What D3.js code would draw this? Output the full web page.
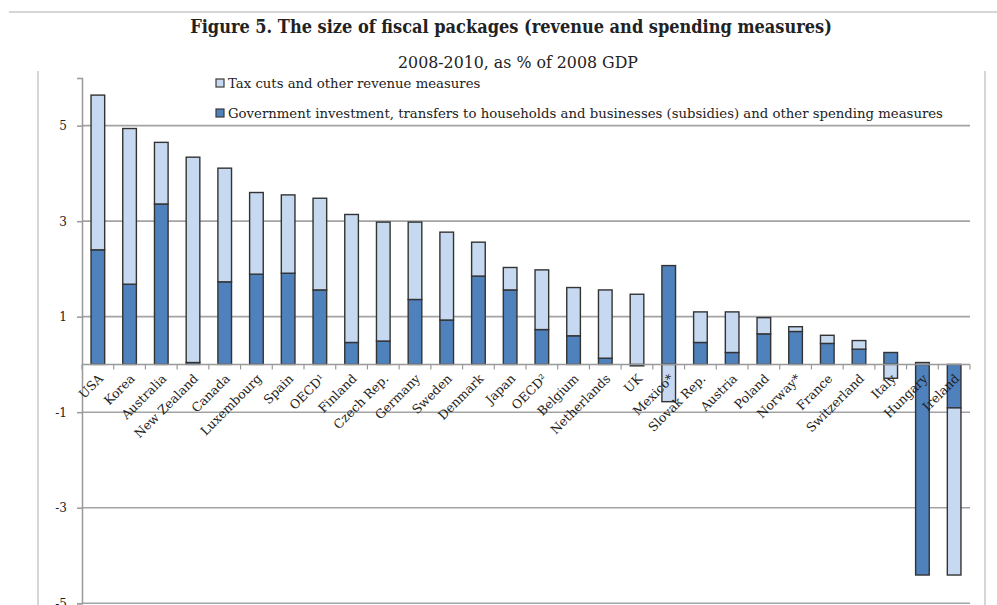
<!DOCTYPE html>
<html>
<head>
<meta charset="utf-8">
<script src="https://cdn.jsdelivr.net/npm/d3@7"></script>
<style>
  body { margin: 0; background: #fff; }
  svg text { font-family: "DejaVu Serif", "Liberation Serif", serif; fill: #222; }
</style>
</head>
<body>
<div id="chart"></div>
<script>
// values (% of 2008 GDP)
const countries = ["USA", "Korea", "Australia", "New Zealand", "Canada", "Luxembourg", "Spain", "OECD¹",
  "Finland", "Czech Rep.", "Germany", "Sweden", "Denmark", "Japan", "OECD²", "Belgium", "Netherlands",
  "UK", "Mexico*", "Slovak Rep.", "Austria", "Poland", "Norway*", "France", "Switzerland", "Italy",
  "Hungary", "Ireland"];
const spending = [2.40, 1.68, 3.36, 0.04, 1.73, 1.89, 1.91, 1.56, 0.46, 0.49, 1.36, 0.93, 1.85, 1.56,
  0.73, 0.60, 0.13, -0.03, 2.07, 0.46, 0.25, 0.64, 0.69, 0.44, 0.32, 0.25, -4.41, -0.91];
const revenue = [3.24, 3.26, 1.29, 4.30, 2.38, 1.71, 1.64, 1.92, 2.68, 2.49, 1.62, 1.84, 0.71, 0.47,
  1.25, 1.01, 1.43, 1.47, -0.78, 0.64, 0.85, 0.34, 0.10, 0.17, 0.18, -0.29, 0.04, -3.50];
const yTicks = [5, 3, 1, -1, -3, -5];
const legendLabels = ["Tax cuts and other revenue  measures",
  "Government investment, transfers to households and businesses (subsidies) and other spending measures"];

const width = 997, height = 605;
const colors = {spending: "#4f81bd", revenue: "#c6d9f1"};

const svg = d3.select("#chart").append("svg")
  .attr("width", width)
  .attr("height", height);

// squeeze/stretch the font size so a line of text fills a given width
function fitText(sel, target) {
  const fs = parseFloat(sel.attr("font-size"));
  const w = sel.node().getComputedTextLength();
  sel.attr("font-size", fs * target / w);
  return fs * target / w;
}

// outer frame lines
svg.append("line").attr("x1", 9).attr("x2", width).attr("y1", 12).attr("y2", 12)
  .attr("stroke", "#c8c8c8").attr("stroke-width", 1.5);
[38, 985].forEach(xx => {
  svg.append("line").attr("x1", xx).attr("x2", xx).attr("y1", 71).attr("y2", height)
    .attr("stroke", "#c8c8c8").attr("stroke-width", 1.5);
});

const title = svg.append("text")
  .attr("x", 511).attr("y", 33)
  .attr("text-anchor", "middle")
  .attr("font-weight", "bold")
  .attr("font-size", 17)
  .style("font-family", "'DejaVu Serif Condensed', 'DejaVu Serif', serif")
  .style("font-stretch", "condensed")
  .text("Figure 5. The size of fiscal packages (revenue and spending measures)");
fitText(title, 642);

const subtitle = svg.append("text")
  .attr("x", 518).attr("y", 68)
  .attr("text-anchor", "middle")
  .attr("font-size", 14)
  .text("2008-2010, as % of 2008 GDP");
fitText(subtitle, 240);

// scales
const x = d3.scaleBand()
  .domain(countries)
  .range([82, 970])
  .paddingInner(0.57)
  .paddingOuter(0.285);

const y = d3.scaleLinear()
  .domain([-5, 6])
  .range([603.2, 77.9]);

// gridlines
svg.append("g")
  .selectAll("line")
  .data(yTicks)
  .enter().append("line")
  .attr("x1", 82).attr("x2", 970)
  .attr("y1", d => y(d)).attr("y2", d => y(d))
  .attr("stroke", "#a3a3a3").attr("stroke-width", 1.6);

// y axis
const yAxis = svg.append("g")
  .attr("transform", "translate(82,0)")
  .call(d3.axisLeft(y).tickValues(yTicks).tickSize(5).tickFormat(d3.format("d")));
yAxis.select(".domain").attr("stroke", "#999").attr("stroke-width", 1.5);
yAxis.selectAll(".tick line").attr("stroke", "#999").attr("stroke-width", 1.5);
yAxis.selectAll(".tick text")
  .attr("font-family", "DejaVu Serif, serif")
  .attr("font-size", 12)
  .attr("x", -15)
  .attr("fill", "#333")
  .text(d => d < 0 ? "-" + Math.abs(d) : d);

// stacked bars
const rows = countries.map((c, i) => ({country: c, spending: spending[i], revenue: revenue[i]}));
const series = d3.stack()
  .keys(["spending", "revenue"])
  .offset(d3.stackOffsetDiverging)(rows);

svg.append("g")
  .selectAll("g")
  .data(series)
  .enter().append("g")
  .attr("fill", d => colors[d.key])
  .selectAll("rect")
  .data(d => d)
  .enter().append("rect")
  .attr("x", d => x(d.data.country))
  .attr("width", x.bandwidth())
  .attr("y", d => y(Math.max(d[0], d[1])))
  .attr("height", d => Math.abs(y(d[0]) - y(d[1])))
  .attr("stroke", "#333")
  .attr("stroke-width", 1.4);

// zero line with category ticks
const zero = y(0);
svg.append("line").attr("x1", 82).attr("x2", 970).attr("y1", zero).attr("y2", zero)
  .attr("stroke", "#999").attr("stroke-width", 1.5);
const step = x.step();
svg.append("g")
  .selectAll("line")
  .data(d3.range(countries.length + 1))
  .enter().append("line")
  .attr("x1", i => 82 + i * step).attr("x2", i => 82 + i * step)
  .attr("y1", zero).attr("y2", zero + 5)
  .attr("stroke", "#999").attr("stroke-width", 1.2);

// category labels, rotated
svg.append("g")
  .selectAll("text")
  .data(countries)
  .enter().append("text")
  .attr("text-anchor", "end")
  .attr("font-size", 12.5)
  .attr("transform", d => "translate(" + (x(d) + x.bandwidth() / 2 + 6) + "," + (zero + 15) + ") rotate(-45)")
  .text(d => d);

// legend
const legend = svg.append("g").attr("transform", "translate(216,0)");
const legendRows = [{label: legendLabels[0], key: "revenue", y: 83}, {label: legendLabels[1], key: "spending", y: 113}];
legend.selectAll("rect")
  .data(legendRows)
  .enter().append("rect")
  .attr("x", 0).attr("y", d => d.y - 4)
  .attr("width", 8).attr("height", 8)
  .attr("fill", d => colors[d.key])
  .attr("stroke", "#3a3a3a").attr("stroke-width", 1.2);
const legendText = legend.selectAll("text")
  .data(legendRows)
  .enter().append("text")
  .attr("x", 12).attr("y", d => d.y + 4.5)
  .attr("font-size", 12)
  .attr("fill", "#333")
  .text(d => d.label);
const fs = fitText(d3.select(legendText.nodes()[1]), 715);
legendText.attr("font-size", fs);
</script>
</body>
</html>
